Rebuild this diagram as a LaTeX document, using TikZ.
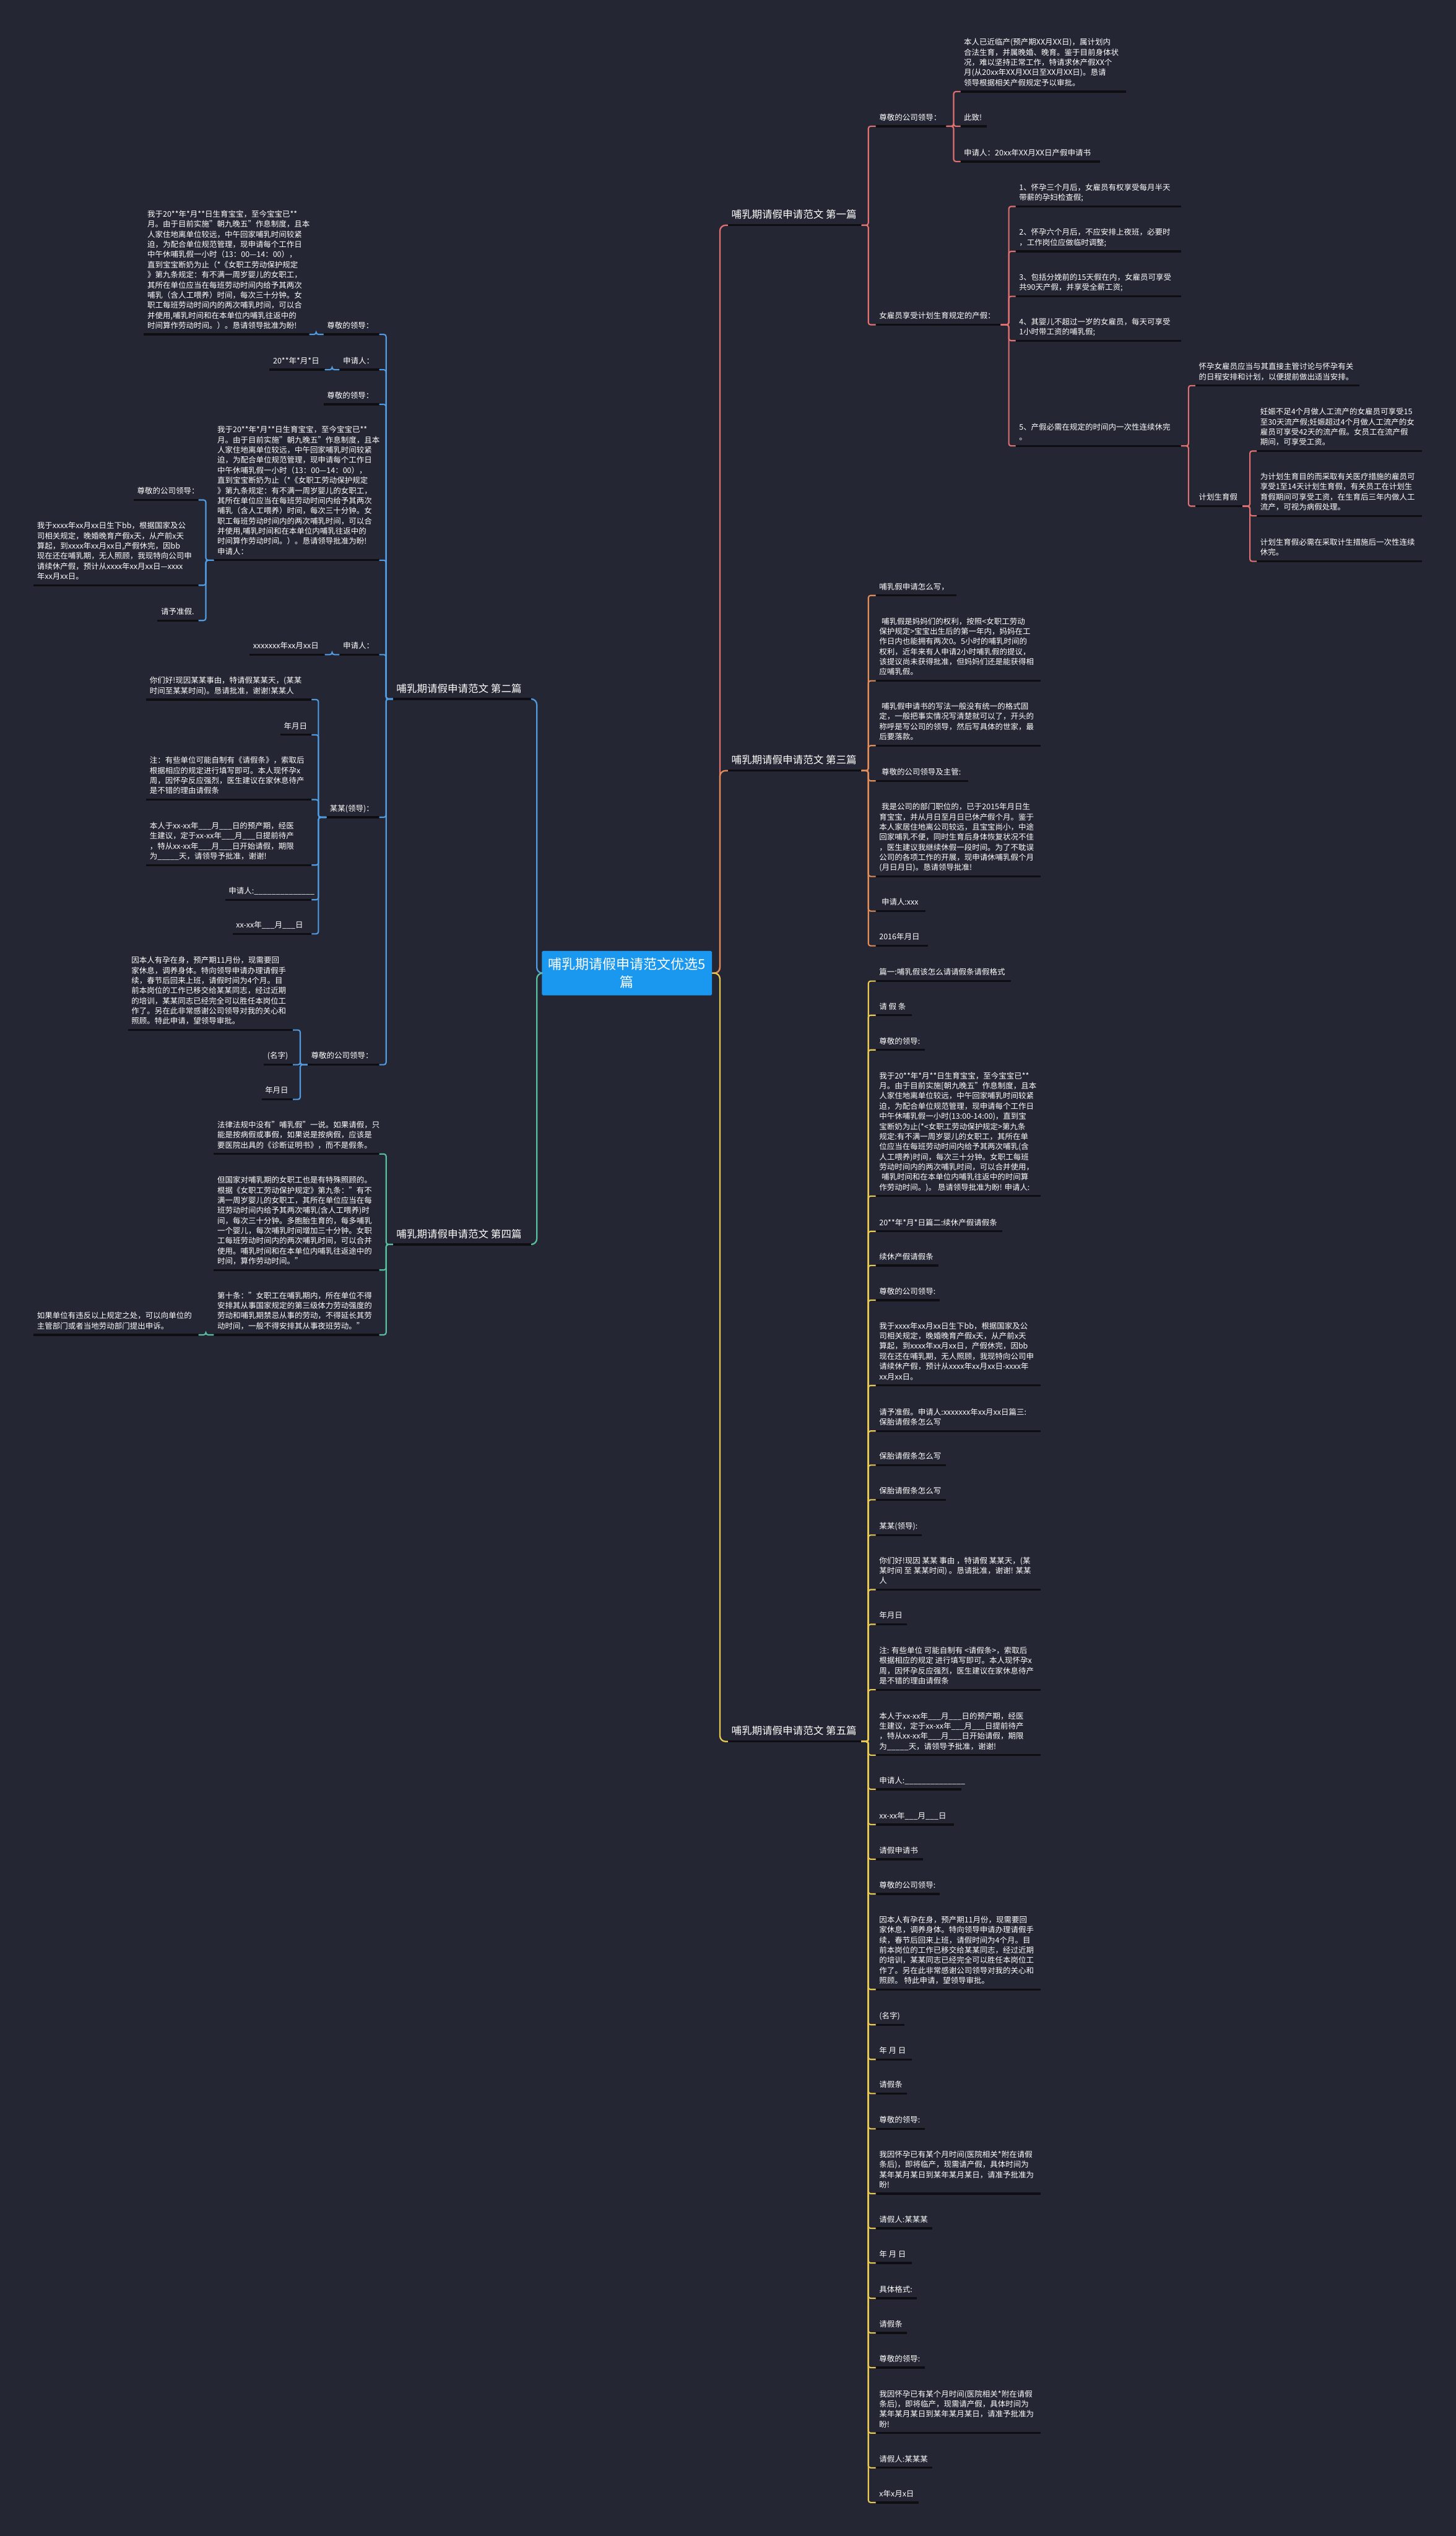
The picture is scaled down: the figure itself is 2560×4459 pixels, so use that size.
\documentclass[tikz,border=0pt]{standalone}
\usepackage{fontspec}
\setmainfont{Noto Sans CJK SC}
\usetikzlibrary{calc}
\definecolor{bg}{RGB}{36,39,51}
\definecolor{ulc}{RGB}{14,14,18}
\definecolor{rootc}{RGB}{26,152,240}
\definecolor{cA}{RGB}{226,112,112}
\definecolor{cB}{RGB}{80,155,225}
\definecolor{cC}{RGB}{226,140,88}
\definecolor{cD}{RGB}{88,190,160}
\definecolor{cE}{RGB}{232,200,80}
\newcommand{\lf}{\fontsize{13.6}{17.8}\selectfont}
\newcommand{\tf}{\fontsize{18}{22}\selectfont}
\newcommand{\rf}{\fontsize{24}{32}\selectfont}
\tikzset{
  leaf/.style={font=\lf, text=white, inner sep=0pt, align=left, anchor=south west},
  ttl/.style={font=\tf, text=white, inner sep=0pt, align=left, anchor=south west},
  uline/.style={draw=ulc, line width=3.6pt},
  conn/.style={line width=2.3pt, rounded corners=4pt},
  rconn/.style={line width=2.5pt, rounded corners=10pt},
  rootbox/.style={fill=rootc, text=white, font=\rf, align=center, minimum width=299pt, minimum height=78pt, inner sep=0pt, rounded corners=2pt}
}
% node: [style]{name}{L}{R}{U}{text}
\newcommand{\mm}[6][leaf]{%
  \node[#1] (#2) at (#3+6,#5-5) {#6\strut};
  \coordinate (#2-l) at (#3,#5);
  \coordinate (#2-r) at (#4,#5);
  \draw[uline] (#2-l) -- (#2-r);
}
\newcommand{\vv}[3]{\coordinate (#1-v) at (#2,#3);}
\newcommand{\cR}[3]{\draw[conn,#1] (#2-r) -- (#2-v) |- (#3-l);}
\newcommand{\cL}[3]{\draw[conn,#1] (#2-l) -- (#2-v) |- (#3-r);}
\newcommand{\us}{\_\_\_}
\begin{document}
\begin{tikzpicture}[x=1pt,y=-1pt]
\fill[bg] (0,0) rectangle (2560,4459);
\useasboundingbox (0,0) rectangle (2560,4459);

% ---------- root ----------
\node[rootbox] (center) at (1102.5,1711) {哺乳期请假申请范文优选5\\篇};
\coordinate (root-r) at (1266,1711);
\coordinate (root-l) at (944,1711);

% ---------- branch 1 ----------
\mm[ttl]{b1}{1280}{1515}{396}{哺乳期请假申请范文 第一篇}
\vv{b1}{1527}{396}
\mm{n1a}{1540}{1664}{222}{尊敬的公司领导：}
\vv{n1a}{1677}{222}
\mm{n1aa}{1689}{1980}{161}{本人已近临产(预产期XX月XX日)，属计划内\\合法生育，并属晚婚、晚育。鉴于目前身体状\\况，难以坚持正常工作，特请求休产假XX个\\月(从20xx年XX月XX日至XX月XX日)。恳请\\领导根据相关产假规定予以审批。}
\mm{n1ab}{1689}{1735}{222}{此致!}
\mm{n1ac}{1689}{1934}{284}{申请人：20xx年XX月XX日产假申请书}
\mm{n1b}{1540}{1760}{571}{女雇员享受计划生育规定的产假：}
\vv{n1b}{1774}{571}
\mm{n1ba}{1786}{2077}{363}{1、怀孕三个月后，女雇员有权享受每月半天\\带薪的孕妇检查假;}
\mm{n1bb}{1786}{2077}{442}{2、怀孕六个月后，不应安排上夜班，必要时\\，工作岗位应做临时调整;}
\mm{n1bc}{1786}{2077}{521}{3、包括分娩前的15天假在内，女雇员可享受\\共90天产假，并享受全薪工资;}
\mm{n1bd}{1786}{2077}{599}{4、其婴儿不超过一岁的女雇员，每天可享受\\1小时带工资的哺乳假;}
\mm{n1be}{1786}{2077}{784}{5、产假必需在规定的时间内一次性连续休完\\。}
\vv{n1be}{2090}{784}
\mm{n1bea}{2102}{2391}{678}{怀孕女雇员应当与其直接主管讨论与怀孕有关\\的日程安排和计划，以便提前做出适当安排。}
\mm{n1beb}{2102}{2185}{890}{计划生育假}
\vv{n1beb}{2198}{890}
\mm{pa}{2210}{2500}{793}{妊娠不足4个月做人工流产的女雇员可享受15\\至30天流产假;妊娠超过4个月做人工流产的女\\雇员可享受42天的流产假。女员工在流产假\\期间，可享受工资。}
\mm{pb}{2210}{2500}{907}{为计划生育目的而采取有关医疗措施的雇员可\\享受1至14天计划生育假，有关员工在计划生\\育假期间可享受工资，在生育后三年内做人工\\流产，可视为病假处理。}
\mm{pc}{2210}{2500}{987}{计划生育假必需在采取计生措施后一次性连续\\休完。}

\draw[rconn,cA] (center.east) -- (root-r) |- (b1-l);
\cR{cA}{b1}{n1a}\cR{cA}{b1}{n1b}
\cR{cA}{n1a}{n1aa}\cR{cA}{n1a}{n1ab}\cR{cA}{n1a}{n1ac}
\cR{cA}{n1b}{n1ba}\cR{cA}{n1b}{n1bb}\cR{cA}{n1b}{n1bc}\cR{cA}{n1b}{n1bd}\cR{cA}{n1b}{n1be}
\cR{cA}{n1be}{n1bea}\cR{cA}{n1be}{n1beb}
\cR{cA}{n1beb}{pa}\cR{cA}{n1beb}{pb}\cR{cA}{n1beb}{pc}

% ---------- branch 3 ----------
\mm[ttl]{b3}{1280}{1515}{1355}{哺乳期请假申请范文 第三篇}
\vv{b3}{1527}{1355}
\mm{ta}{1540}{1682}{1047}{哺乳假申请怎么写，}
\mm{tb}{1540}{1830}{1197}{\hspace{4pt}哺乳假是妈妈们的权利，按照<女职工劳动\\保护规定>宝宝出生后的第一年内，妈妈在工\\作日内也能拥有两次0。5小时的哺乳时间的\\权利，近年来有人申请2小时哺乳假的提议，\\该提议尚未获得批准，但妈妈们还是能获得相\\应哺乳假。}
\mm{tc}{1540}{1830}{1311}{\hspace{4pt}哺乳假申请书的写法一般没有统一的格式固\\定，一般把事实情况写清楚就可以了，开头的\\称呼是写公司的领导，然后写具体的世家，最\\后要落款。}
\mm{td}{1540}{1703}{1373}{\hspace{4pt}尊敬的公司领导及主管:}
\mm{te}{1540}{1830}{1541}{\hspace{4pt}我是公司的部门职位的，已于2015年月日生\\育宝宝，并从月日至月日已休产假个月。鉴于\\本人家居住地离公司较远，且宝宝尚小，中途\\回家哺乳不便，同时生育后身体恢复状况不佳\\，医生建议我继续休假一段时间。为了不耽误\\公司的各项工作的开展，现申请休哺乳假个月\\(月日月日)。恳请领导批准!}
\mm{tf}{1540}{1628}{1602}{\hspace{4pt}申请人:xxx}
\mm{tg}{1540}{1632}{1663}{2016年月日}
\draw[rconn,cC] (center.east) -- (root-r) |- (b3-l);
\foreach \c in {ta,tb,tc,td,te,tf,tg}{\cR{cC}{b3}{\c}}

% ---------- branch 5 ----------
\mm[ttl]{b5}{1280}{1515}{3062}{哺乳期请假申请范文 第五篇}
\vv{b5}{1527}{3062}
\mm{sa}{1540}{1778}{1725}{篇一:哺乳假该怎么请请假条请假格式}
\mm{sb}{1540}{1603}{1785}{请 假 条}
\mm{sc}{1540}{1626}{1846}{尊敬的领导:}
\mm{sd}{1540}{1830}{2103}{我于20**年*月**日生育宝宝，至今宝宝已**\\月。由于目前实施[朝九晚五"作息制度，且本\\人家住地离单位较远，中午回家哺乳时间较紧\\迫，为配合单位规范管理，现申请每个工作日\\中午休哺乳假一小时(13:00-14:00)，直到宝\\宝断奶为止(*<女职工劳动保护规定>第九条\\规定:有不满一周岁婴儿的女职工，其所在单\\位应当在每班劳动时间内给予其两次哺乳(含\\人工喂养)时间，每次三十分钟。女职工每班\\劳动时间内的两次哺乳时间，可以合并使用，\\\hspace{4pt}哺乳时间和在本单位内哺乳往返中的时间算\\作劳动时间。)。 恳请领导批准为盼! 申请人:}
\mm{se}{1540}{1763}{2165}{20**年*月*日篇二:续休产假请假条}
\mm{sf}{1540}{1650}{2225}{续休产假请假条}
\mm{sg}{1540}{1653}{2286}{尊敬的公司领导:}
\mm{sh}{1540}{1830}{2436}{我于xxxx年xx月xx日生下bb，根据国家及公\\司相关规定，晚婚晚育产假x天，从产前x天\\算起，到xxxx年xx月xx日，产假休完，因bb\\现在还在哺乳期，无人照顾，我现特向公司申\\请续休产假，预计从xxxx年xx月xx日-xxxx年\\xx月xx日。}
\mm{si}{1540}{1830}{2516}{请予准假。申请人:xxxxxxx年xx月xx日篇三:\\保胎请假条怎么写}
\mm{sj}{1540}{1663}{2576}{保胎请假条怎么写}
\mm{sk}{1540}{1663}{2637}{保胎请假条怎么写}
\mm{sl}{1540}{1621}{2699}{某某(领导):}
\mm{sm}{1540}{1830}{2795}{你们好!现因 某某 事由 ，特请假 某某天，(某\\某时间 至 某某时间) 。恳请批准，谢谢! 某某\\人}
\mm{sn}{1540}{1595}{2856}{年月日}
\mm{so}{1540}{1830}{2971}{注: 有些单位 可能自制有 <请假条>，索取后\\根据相应的规定 进行填写即可。本人现怀孕x\\周，因怀孕反应强烈，医生建议在家休息待产\\是不错的理由请假条}
\mm{sp}{1540}{1830}{3086}{本人于xx-xx年\us 月\us 日的预产期，经医\\生建议，定于xx-xx年\us 月\us 日提前待产\\，特从xx-xx年\us 月\us 日开始请假，期限\\为\_\_\_\_\_天，请领导予批准，谢谢!}
\mm{sq}{1540}{1691}{3146}{申请人:\_\_\_\_\_\_\_\_\_\_\_\_\_\_}
\mm{sr}{1540}{1678}{3208}{xx-xx年\us 月\us 日}
\mm{ss}{1540}{1623}{3269}{请假申请书}
\mm{st}{1540}{1653}{3330}{尊敬的公司领导:}
\mm{su}{1540}{1830}{3498}{因本人有孕在身，预产期11月份，现需要回\\家休息，调养身体。特向领导申请办理请假手\\续，春节后回来上班，请假时间为4个月。目\\前本岗位的工作已移交给某某同志，经过近期\\的培训，某某同志已经完全可以胜任本岗位工\\作了。另在此非常感谢公司领导对我的关心和\\照顾。 特此申请，望领导审批。}
\mm{sv}{1540}{1591}{3560}{(名字)}
\mm{sw}{1540}{1603}{3621}{年 月 日}
\mm{sx}{1540}{1595}{3681}{请假条}
\mm{sy}{1540}{1626}{3743}{尊敬的领导:}
\mm{sz}{1540}{1830}{3857}{我因怀孕已有某个月时间(医院相关*附在请假\\条后)，即将临产，现需请产假，具体时间为\\某年某月某日到某年某月某日，请准予批准为\\盼!}
\mm{sA}{1540}{1639}{3918}{请假人:某某某}
\mm{sB}{1540}{1603}{3979}{年 月 日}
\mm{sC}{1540}{1612}{4041}{具体格式:}
\mm{sD}{1540}{1595}{4102}{请假条}
\mm{sE}{1540}{1626}{4163}{尊敬的领导:}
\mm{sF}{1540}{1830}{4278}{我因怀孕已有某个月时间(医院相关*附在请假\\条后)，即将临产，现需请产假，具体时间为\\某年某月某日到某年某月某日，请准予批准为\\盼!}
\mm{sG}{1540}{1639}{4339}{请假人:某某某}
\mm{sH}{1540}{1616}{4400}{x年x月x日}
\draw[rconn,cE] (center.east) -- (root-r) |- (b5-l);
\foreach \c in {sa,sb,sc,sd,se,sf,sg,sh,si,sj,sk,sl,sm,sn,so,sp,sq,sr,ss,st,su,sv,sw,sx,sy,sz,sA,sB,sC,sD,sE,sF,sG,sH}{\cR{cE}{b5}{\c}}

% ---------- branch 2 ----------
\mm[ttl]{b2}{691}{935}{1229}{哺乳期请假申请范文 第二篇}
\vv{b2}{679}{1229}
\mm{qa}{569}{667}{588}{尊敬的领导：}
\vv{qa}{556}{588}
\mm{qaa}{253}{544}{588}{我于20**年*月**日生育宝宝，至今宝宝已**\\月。由于目前实施"朝九晚五"作息制度，且本\\人家住地离单位较远，中午回家哺乳时间较紧\\迫，为配合单位规范管理，现申请每个工作日\\中午休哺乳假一小时（13：00—14：00），\\直到宝宝断奶为止（*《女职工劳动保护规定\\》第九条规定：有不满一周岁婴儿的女职工，\\其所在单位应当在每班劳动时间内给予其两次\\哺乳（含人工喂养）时间，每次三十分钟。女\\职工每班劳动时间内的两次哺乳时间，可以合\\并使用,哺乳时间和在本单位内哺乳往返中的\\时间算作劳动时间。）。恳请领导批准为盼!}
\mm{qb}{597}{667}{650}{申请人：}
\vv{qb}{584}{650}
\mm{qba}{474}{571}{650}{20**年*月*日}
\mm{qc}{569}{667}{711}{尊敬的领导：}
\mm{qd}{376}{667}{985}{我于20**年*月**日生育宝宝，至今宝宝已**\\月。由于目前实施"朝九晚五"作息制度，且本\\人家住地离单位较远，中午回家哺乳时间较紧\\迫，为配合单位规范管理，现申请每个工作日\\中午休哺乳假一小时（13：00—14：00），\\直到宝宝断奶为止（*《女职工劳动保护规定\\》第九条规定：有不满一周岁婴儿的女职工，\\其所在单位应当在每班劳动时间内给予其两次\\哺乳（含人工喂养）时间，每次三十分钟。女\\职工每班劳动时间内的两次哺乳时间，可以合\\并使用,哺乳时间和在本单位内哺乳往返中的\\时间算作劳动时间。）。恳请领导批准为盼!\\申请人：}
\vv{qd}{362}{985}
\mm{qda}{235}{349}{879}{尊敬的公司领导：}
\mm{qdb}{59}{349}{1029}{我于xxxx年xx月xx日生下bb，根据国家及公\\司相关规定，晚婚晚育产假x天，从产前x天\\算起，到xxxx年xx月xx日,产假休完，因bb\\现在还在哺乳期，无人照顾，我现特向公司申\\请续休产假，预计从xxxx年xx月xx日—xxxx\\年xx月xx日。}
\mm{qdc}{277}{349}{1091}{请予准假.}
\mm{qe}{597}{667}{1151}{申请人：}
\vv{qe}{584}{1151}
\mm{qea}{439}{571}{1151}{xxxxxxx年xx月xx日}
\mm{qf}{574}{667}{1437}{某某(领导)：}
\vv{qf}{560}{1437}
\mm{qfa}{257}{548}{1230}{你们好!现因某某事由，特请假某某天，(某某\\时间至某某时间)。恳请批准，谢谢!某某人}
\mm{qfb}{493}{548}{1292}{年月日}
\mm{qfc}{257}{548}{1406}{注：有些单位可能自制有《请假条》，索取后\\根据相应的规定进行填写即可。本人现怀孕x\\周，因怀孕反应强烈，医生建议在家休息待产\\是不错的理由请假条}
\mm{qfd}{257}{548}{1521}{本人于xx-xx年\us 月\us 日的预产期，经医\\生建议，定于xx-xx年\us 月\us 日提前待产\\，特从xx-xx年\us 月\us 日开始请假，期限\\为\_\_\_\_\_天，请领导予批准，谢谢!}
\mm{qfe}{396}{548}{1582}{申请人:\_\_\_\_\_\_\_\_\_\_\_\_\_\_}
\mm{qff}{409}{548}{1642}{xx-xx年\us 月\us 日}
\mm{qg}{541}{667}{1872}{尊敬的公司领导：}
\vv{qg}{528}{1872}
\mm{qga}{225}{515}{1811}{因本人有孕在身，预产期11月份，现需要回\\家休息，调养身体。特向领导申请办理请假手\\续，春节后回来上班，请假时间为4个月。目\\前本岗位的工作已移交给某某同志，经过近期\\的培训，某某同志已经完全可以胜任本岗位工\\作了。另在此非常感谢公司领导对我的关心和\\照顾。特此申请，望领导审批。}
\mm{qgb}{464}{515}{1872}{(名字)}
\mm{qgc}{460}{515}{1933}{年月日}
\draw[rconn,cB] (center.west) -- (root-l) |- (b2-r);
\foreach \c in {qa,qb,qc,qd,qe,qf,qg}{\cL{cB}{b2}{\c}}
\cL{cB}{qa}{qaa}\cL{cB}{qb}{qba}\cL{cB}{qe}{qea}
\foreach \c in {qda,qdb,qdc}{\cL{cB}{qd}{\c}}
\foreach \c in {qfa,qfb,qfc,qfd,qfe,qff}{\cL{cB}{qf}{\c}}
\foreach \c in {qga,qgb,qgc}{\cL{cB}{qg}{\c}}

% ---------- branch 4 ----------
\mm[ttl]{b4}{691}{935}{2188}{哺乳期请假申请范文 第四篇}
\vv{b4}{679}{2188}
\mm{ka}{376}{667}{2029}{法律法规中没有"哺乳假"一说。如果请假，只\\能是按病假或事假，如果说是按病假，应该是\\要医院出具的《诊断证明书》，而不是假条。}
\mm{kb}{376}{667}{2233}{但国家对哺乳期的女职工也是有特殊照顾的。\\根据《女职工劳动保护规定》第九条："有不\\满一周岁婴儿的女职工，其所在单位应当在每\\班劳动时间内给予其两次哺乳(含人工喂养)时\\间，每次三十分钟。多胞胎生育的，每多哺乳\\一个婴儿，每次哺乳时间增加三十分钟。女职\\工每班劳动时间内的两次哺乳时间，可以合并\\使用。哺乳时间和在本单位内哺乳往返途中的\\时间，算作劳动时间。"}
\mm{kc}{376}{667}{2347}{第十条："女职工在哺乳期内，所在单位不得\\安排其从事国家规定的第三级体力劳动强度的\\劳动和哺乳期禁忌从事的劳动，不得延长其劳\\动时间，一般不得安排其从事夜班劳动。"}
\vv{kc}{362}{2347}
\mm{kca}{59}{349}{2347}{如果单位有违反以上规定之处，可以向单位的\\主管部门或者当地劳动部门提出申诉。}
\draw[rconn,cD] (center.west) -- (root-l) |- (b4-r);
\foreach \c in {ka,kb,kc}{\cL{cD}{b4}{\c}}
\cL{cD}{kc}{kca}
\end{tikzpicture}
\end{document}
